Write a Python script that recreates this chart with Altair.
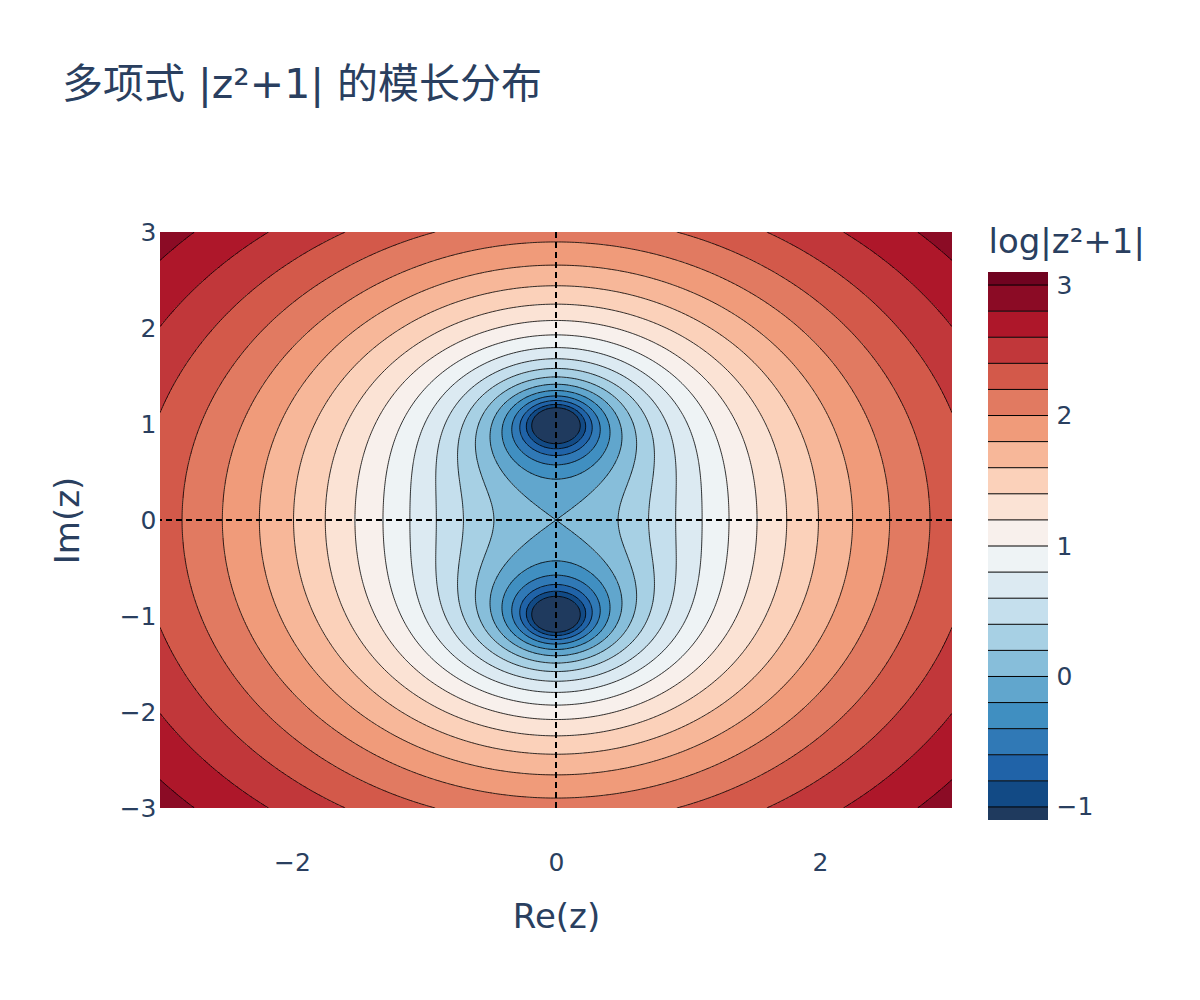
import numpy as np
import pandas as pd
import altair as alt
from collections import defaultdict

alt.data_transformers.disable_max_rows()

# ---------------- text / axis content ----------------
TITLE = "多项式 |z²+1| 的模长分布"
X_TITLE = "Re(z)"
Y_TITLE = "Im(z)"
CB_TITLE = "log|z²+1|"

re_range = [-3.0, 3.0]
im_range = [-3.0, 3.0]
x_ticks = [-2, 0, 2]
y_ticks = [-3, -2, -1, 0, 1, 2, 3]
cb_ticks = [-1, 0, 1, 2, 3]
levels = [round(-1.0 + 0.2 * k, 1) for k in range(21)]   # contour levels -1.0 ... 3.0
cb_range = [-1.1, 3.1]

# RdBu (reversed) anchor colours
rdbu_r = [(5, 48, 97), (33, 102, 172), (67, 147, 195), (146, 197, 222), (209, 229, 240),
          (247, 247, 247), (253, 219, 199), (244, 165, 130), (214, 96, 77), (178, 24, 43),
          (103, 0, 31)]
below_color = "#1f3a5e"

FONT = "DejaVu Sans"
TITLE_FONT = "DejaVu Sans, Noto Sans CJK SC"
TXT = "#2a3f5f"


def cmap(t):
    t = min(max(t, 0.0), 1.0)
    pos = t * (len(rdbu_r) - 1)
    i = min(int(pos), len(rdbu_r) - 2)
    f = pos - i
    c = [rdbu_r[i][k] + f * (rdbu_r[i + 1][k] - rdbu_r[i][k]) for k in range(3)]
    return "#%02x%02x%02x" % tuple(int(round(v)) for v in c)


band_lo = [cb_range[0]] + levels
band_hi = levels + [cb_range[1]]
band_mid = [round((a + b) / 2, 3) for a, b in zip(band_lo, band_hi)]
band_colors = [below_color] + [cmap((m - cb_range[0]) / (cb_range[1] - cb_range[0])) for m in band_mid[1:]]


def field(x, y):
    z = x + 1j * y
    return np.log(np.maximum(np.abs(z * z + 1), 1e-3))


# ---------------- filled bands (row run-length rectangles) ----------------
nxr, nyr = 396, 288
xe = np.linspace(re_range[0], re_range[1], nxr + 1)
ye = np.linspace(im_range[0], im_range[1], nyr + 1)
xc = (xe[:-1] + xe[1:]) / 2
yc = (ye[:-1] + ye[1:]) / 2
V = field(xc[None, :], yc[:, None])
B = np.digitize(V, levels)
eps = 0.006
recs = []
for j in range(nyr):
    b = B[j]
    idx = np.flatnonzero(np.diff(b)) + 1
    starts = np.concatenate([[0], idx])
    ends = np.concatenate([idx, [nxr]])
    for s, e in zip(starts, ends):
        recs.append({"x": round(float(xe[s]), 4), "x2": round(float(xe[e]), 4),
                     "y": round(float(ye[j]), 4), "y2": round(float(min(ye[j + 1] + eps, im_range[1])), 4),
                     "v": band_mid[int(b[s])]})
raster_df = pd.DataFrame(recs)

# ---------------- contour lines (marching squares) ----------------
ncx, ncy = 301, 301
gx = np.linspace(re_range[0], re_range[1], ncx)
gy = np.linspace(im_range[0], im_range[1], ncy)
Z = field(gx[None, :], gy[:, None])


def contour_paths(level):
    above = Z >= level
    a = above[:-1, :-1]; b = above[:-1, 1:]; c = above[1:, 1:]; d = above[1:, :-1]
    code = a * 1 + b * 2 + c * 4 + d * 8
    js, iis = np.nonzero((code != 0) & (code != 15))
    segs = []
    for j, i in zip(js, iis):
        bottom = ("h", j, i); right = ("v", j, i + 1); top = ("h", j + 1, i); left = ("v", j, i)
        cd = code[j, i]
        if cd in (5, 10):
            center = (Z[j, i] + Z[j, i + 1] + Z[j + 1, i + 1] + Z[j + 1, i]) / 4 >= level
            if (cd == 5) == center:
                segs.append((bottom, right)); segs.append((top, left))
            else:
                segs.append((bottom, left)); segs.append((right, top))
            continue
        cr = []
        if a[j, i] != b[j, i]: cr.append(bottom)
        if b[j, i] != c[j, i]: cr.append(right)
        if d[j, i] != c[j, i]: cr.append(top)
        if a[j, i] != d[j, i]: cr.append(left)
        if len(cr) == 2:
            segs.append((cr[0], cr[1]))

    def pt(key):
        kind, j, i = key
        if kind == "h":
            z0, z1 = Z[j, i], Z[j, i + 1]
            t = (level - z0) / (z1 - z0)
            return gx[i] + t * (gx[i + 1] - gx[i]), gy[j]
        z0, z1 = Z[j, i], Z[j + 1, i]
        t = (level - z0) / (z1 - z0)
        return gx[i], gy[j] + t * (gy[j + 1] - gy[j])

    adj = defaultdict(list)
    for k, (e1, e2) in enumerate(segs):
        adj[e1].append(k); adj[e2].append(k)
    used = [False] * len(segs)
    paths = []
    for k in range(len(segs)):
        if used[k]:
            continue
        used[k] = True
        chain = [segs[k][0], segs[k][1]]
        for _ in range(2):
            while True:
                end = chain[-1]
                nxt = None
                for m in adj[end]:
                    if not used[m]:
                        nxt = m
                        break
                if nxt is None:
                    break
                used[nxt] = True
                s1, s2 = segs[nxt]
                chain.append(s2 if s1 == end else s1)
            chain.reverse()
        paths.append([pt(e) for e in chain])
    return paths


line_recs = []
for li, lev in enumerate(levels):
    for pi, path in enumerate(contour_paths(lev)):
        for o, (px, py) in enumerate(path):
            line_recs.append({"pid": f"{li}_{pi}", "o": o, "x": round(float(px), 4), "y": round(float(py), 4)})
lines_df = pd.DataFrame(line_recs)

cb_df = pd.DataFrame({"lo": band_lo, "hi": band_hi, "v": band_mid})
lev_df = pd.DataFrame({"lo": levels})

# ---------------- scales / axes ----------------
W, H = 792, 576
xscale = alt.Scale(domain=re_range, nice=False, zero=False)
yscale = alt.Scale(domain=im_range, nice=False, zero=False)
cscale = alt.Scale(type="threshold", domain=levels, range=band_colors)

X_AX = alt.Axis(values=x_ticks, grid=False, domain=False, ticks=False, tickSize=0, labelPadding=42,
                labelFontSize=25, title=X_TITLE, titleFontSize=34, titleY=109, titleBaseline="middle")
Y_AX = alt.Axis(values=y_ticks, grid=False, domain=False, ticks=False, tickSize=0, labelPadding=4,
                labelFontSize=25, title=Y_TITLE, titleFontSize=34, titleX=-92, titleY=H / 2,
                titleBaseline="middle", titleAngle=-90)

X = alt.X("x:Q", scale=xscale, axis=X_AX)
Y = alt.Y("y:Q", scale=yscale, axis=Y_AX)

rects = alt.Chart(raster_df).mark_rect(clip=True).encode(
    x=X, x2="x2:Q", y=Y, y2="y2:Q",
    color=alt.Color("v:Q", scale=cscale, legend=None))

lines = alt.Chart(lines_df).mark_line(color="black", strokeWidth=0.8, clip=True).encode(
    x=X, y=Y, detail="pid:N", order="o:Q")

vrule = alt.Chart(pd.DataFrame({"x": [0.0]})).mark_rule(
    color="black", strokeWidth=2, strokeDash=[6, 4]).encode(x=X)
hrule = alt.Chart(pd.DataFrame({"y": [0.0]})).mark_rule(
    color="black", strokeWidth=2, strokeDash=[6, 4]).encode(y=Y)

main = alt.layer(rects, lines, vrule, hrule)

cbscale = alt.Scale(domain=cb_range, range=[588, 40], nice=False, zero=False)
CB_AX = alt.Axis(orient="right", values=cb_ticks, offset=96, grid=False, domain=False, ticks=False,
                 tickSize=0, labelPadding=8, labelFontSize=25, title=CB_TITLE, titleFontSize=34,
                 titleAngle=0, titleAlign="left", titleBaseline="middle", titleX=-60, titleY=10)

cb_rects = alt.Chart(cb_df).mark_rect().encode(
    x=alt.value(828), x2=alt.value(888),
    y=alt.Y("lo:Q", scale=cbscale, axis=CB_AX), y2="hi:Q",
    color=alt.Color("v:Q", scale=cscale, legend=None))
cb_lines = alt.Chart(lev_df).mark_rule(color="black", strokeWidth=1).encode(
    x=alt.value(828), x2=alt.value(888),
    y=alt.Y("lo:Q", scale=cbscale, axis=CB_AX))
cbar = alt.layer(cb_rects, cb_lines)

chart = alt.layer(main, cbar).resolve_scale(y="independent").properties(
    width=W, height=H,
    title=alt.Title(TITLE, anchor="start", frame="group", dx=-98, dy=-113, offset=0,
                    fontSize=41, font=TITLE_FONT, fontWeight="normal", color=TXT),
    padding={"left": 160, "top": 232, "right": 248, "bottom": 192},
    autosize=alt.AutoSizeParams(type="none"),
).configure_view(stroke=None).configure_axis(
    labelFont=FONT, titleFont=FONT, labelColor=TXT, titleColor=TXT, titleFontWeight="normal"
)

chart.save("out.html", embed_options={"renderer": "svg", "actions": False})
